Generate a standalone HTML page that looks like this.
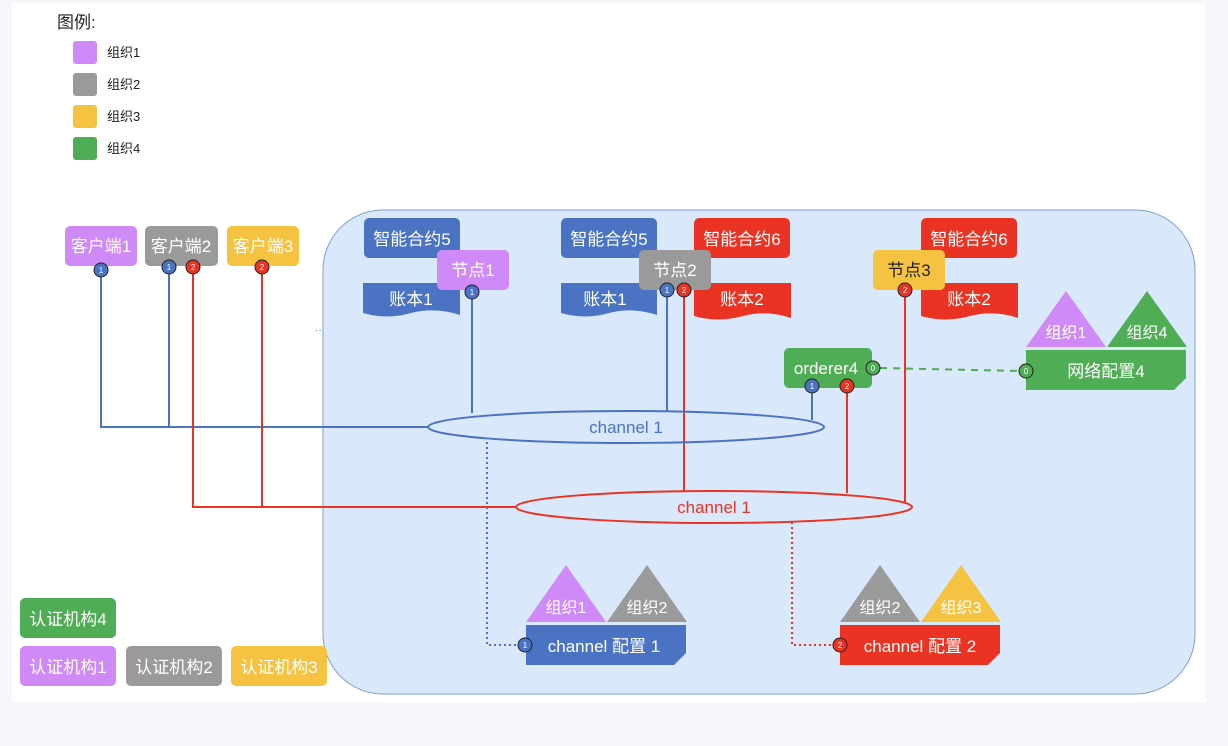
<!DOCTYPE html>
<html><head><meta charset="utf-8"><style>
html,body{margin:0;padding:0;background:#f6f7fb;}
svg{display:block;font-family:"Liberation Sans","Noto Sans CJK SC",sans-serif;}
</style></head><body>
<svg width="1228" height="746" viewBox="0 0 1228 746" xmlns="http://www.w3.org/2000/svg">
<rect x="0" y="0" width="1228" height="746" fill="#f6f7fb"/>
<rect x="12" y="3" width="1193" height="699" fill="#fff"/>
<!-- legend -->
<text x="57" y="28" font-size="17" fill="#222">图例:</text>
<g font-size="13" fill="#222">
<rect x="73" y="41" width="24" height="23" rx="3" fill="#d08af7"/><text x="107" y="57">组织1</text>
<rect x="73" y="73" width="24" height="23" rx="3" fill="#9a9a9a"/><text x="107" y="89">组织2</text>
<rect x="73" y="105" width="24" height="23" rx="3" fill="#f5c242"/><text x="107" y="121">组织3</text>
<rect x="73" y="137" width="24" height="23" rx="3" fill="#4fad55"/><text x="107" y="153">组织4</text>
</g>
<!-- big container -->
<rect x="323" y="210" width="872" height="484" rx="60" fill="#dae8fc" stroke="#7e9fd2" stroke-width="1"/>
<text x="315" y="333" font-size="10" fill="#4b73c4">··</text>
<!-- connector lines -->
<g fill="none" stroke-width="2">
<path d="M101 275 V427 H428" stroke="#4b73c4"/>
<path d="M169 272 V427" stroke="#4b73c4"/>
<path d="M193 272 V507 H516" stroke="#ea3323"/>
<path d="M262 272 V507" stroke="#ea3323"/>
<path d="M472 297 V413" stroke="#4b73c4"/>
<path d="M667 295 V412" stroke="#4b73c4"/>
<path d="M684 295 V492" stroke="#ea3323"/>
<path d="M905 295 V502" stroke="#ea3323"/>
<path d="M812 390 V420" stroke="#4b73c4"/>
<path d="M847 390 V493" stroke="#ea3323"/>
<path d="M880 368 L1020 371" stroke="#4fad55" stroke-dasharray="7,6"/>
<path d="M487 442 V645 H519" stroke="#4b73c4" stroke-dasharray="2,3"/>
<path d="M792 522 V645 H834" stroke="#ea3323" stroke-dasharray="2,3"/>
</g>
<ellipse cx="626" cy="427" rx="198" ry="16" fill="none" stroke="#4b73c4" stroke-width="2"/>
<text x="626" y="433" font-size="17" fill="#4b73c4" text-anchor="middle">channel 1</text>
<ellipse cx="714" cy="507" rx="198" ry="16" fill="none" stroke="#ea3323" stroke-width="2"/>
<text x="714" y="513" font-size="17" fill="#ea3323" text-anchor="middle">channel 1</text>
<!-- clients -->
<g font-size="17" fill="#fff" text-anchor="middle">
<rect x="65" y="226" width="72" height="40" rx="5" fill="#d08af7"/><text x="101" y="252">客户端1</text>
<rect x="145" y="226" width="73" height="40" rx="5" fill="#9a9a9a"/><text x="181" y="252">客户端2</text>
<rect x="227" y="226" width="72" height="40" rx="5" fill="#f5c242"/><text x="263" y="252">客户端3</text>
<!-- cluster 1 -->
<rect x="364" y="218" width="96" height="40" rx="5" fill="#4b73c4"/><text x="412" y="245">智能合约5</text>
<path d="M363 283 H460 V315 Q435 307 411 313 Q387 320 363 313 Z" fill="#4b73c4"/><text x="411" y="305">账本1</text>
<rect x="437" y="250" width="72" height="40" rx="5" fill="#d08af7"/><text x="473" y="276">节点1</text>
<!-- cluster 2 -->
<rect x="561" y="218" width="96" height="40" rx="5" fill="#4b73c4"/><text x="609" y="245">智能合约5</text>
<rect x="694" y="218" width="96" height="40" rx="5" fill="#ea3323"/><text x="742" y="245">智能合约6</text>
<path d="M561 283 H657 V315 Q633 307 609 313 Q585 320 561 313 Z" fill="#4b73c4"/><text x="605" y="305">账本1</text>
<path d="M694 283 H791 V318 Q767 310 743 316 Q718 323 694 316 Z" fill="#ea3323"/><text x="742" y="305">账本2</text>
<rect x="639" y="250" width="72" height="40" rx="5" fill="#9a9a9a"/><text x="675" y="276">节点2</text>
<!-- cluster 3 -->
<rect x="921" y="218" width="96" height="40" rx="5" fill="#ea3323"/><text x="969" y="245">智能合约6</text>
<path d="M921 283 H1018 V318 Q994 310 970 316 Q945 323 921 316 Z" fill="#ea3323"/><text x="969" y="305">账本2</text>
<rect x="873" y="250" width="72" height="40" rx="5" fill="#f5c242"/><text x="909" y="276" fill="#222">节点3</text>
<!-- orderer -->
<rect x="784" y="348" width="88" height="40" rx="5" fill="#4fad55"/><text x="826" y="374">orderer4</text>
<!-- network config -->
<polygon points="1026,347 1066,291 1106,347" fill="#d08af7"/><text x="1066" y="338" font-size="16">组织1</text>
<polygon points="1107,347 1147,291 1187,347" fill="#4fad55"/><text x="1147" y="338" font-size="16">组织4</text>
<polygon points="1026,350 1186,350 1186,378 1174,390 1026,390" fill="#4fad55"/><text x="1106" y="377">网络配置4</text>
<!-- channel config 1 -->
<polygon points="526,622 566,565 606,622" fill="#d08af7"/><text x="566" y="613" font-size="16">组织1</text>
<polygon points="607,622 647,565 687,622" fill="#9a9a9a"/><text x="647" y="613" font-size="16">组织2</text>
<polygon points="526,625 686,625 686,653 674,665 526,665" fill="#4b73c4"/><text x="604" y="652">channel 配置 1</text>
<!-- channel config 2 -->
<polygon points="840,622 880,565 920,622" fill="#9a9a9a"/><text x="880" y="613" font-size="16">组织2</text>
<polygon points="921,622 961,565 1001,622" fill="#f5c242"/><text x="961" y="613" font-size="16">组织3</text>
<polygon points="840,625 1000,625 1000,653 988,665 840,665" fill="#ea3323"/><text x="920" y="652">channel 配置 2</text>
<!-- CAs -->
<rect x="20" y="598" width="96" height="40" rx="5" fill="#4fad55"/><text x="68" y="625">认证机构4</text>
<rect x="20" y="646" width="96" height="40" rx="5" fill="#d08af7"/><text x="68" y="673">认证机构1</text>
<rect x="126" y="646" width="96" height="40" rx="5" fill="#9a9a9a"/><text x="174" y="673">认证机构2</text>
<rect x="231" y="646" width="96" height="40" rx="5" fill="#f5c242"/><text x="279" y="673">认证机构3</text>
</g>
<!-- badges -->
<g font-size="8" fill="#fff" text-anchor="middle" stroke-width="1">
<g stroke="#222">
<circle cx="101" cy="270" r="7" fill="#4b73c4"/><circle cx="169" cy="267" r="7" fill="#4b73c4"/>
<circle cx="193" cy="267" r="7" fill="#ea3323"/><circle cx="262" cy="267" r="7" fill="#ea3323"/>
<circle cx="472" cy="292" r="7" fill="#4b73c4"/><circle cx="667" cy="290" r="7" fill="#4b73c4"/>
<circle cx="684" cy="290" r="7" fill="#ea3323"/><circle cx="905" cy="290" r="7" fill="#ea3323"/>
<circle cx="812" cy="386" r="7" fill="#4b73c4"/><circle cx="847" cy="386" r="7" fill="#ea3323"/>
<circle cx="873" cy="368" r="7" fill="#4fad55"/><circle cx="1026" cy="371" r="7" fill="#4fad55"/>
<circle cx="525" cy="645" r="7" fill="#4b73c4"/><circle cx="840" cy="645" r="7" fill="#ea3323"/>
</g>
<text x="101" y="273">1</text><text x="169" y="270">1</text><text x="193" y="270">2</text><text x="262" y="270">2</text>
<text x="472" y="295">1</text><text x="667" y="293">1</text><text x="684" y="293">2</text><text x="905" y="293">2</text>
<text x="812" y="389">1</text><text x="847" y="389">2</text><text x="873" y="371">0</text><text x="1026" y="374">0</text>
<text x="525" y="648">1</text><text x="840" y="648">2</text>
</g>
</svg>
</body></html>
